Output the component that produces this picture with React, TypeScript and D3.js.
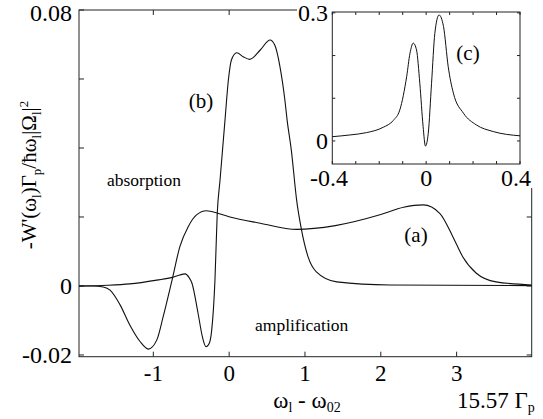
import * as d3 from 'd3';
import React from 'react';

// curve (a): broad band
const aX = [-1.98, -1.8, -1.66, -1.57, -1.44, -1.31, -1.175, -1.066, -0.955, -0.87, -0.75, -0.65, -0.54, -0.43, -0.3, -0.14, 0.01, 0.41, 0.89, 1.4, 2.0, 2.3, 2.56, 2.78, 2.95, 3.08, 3.26, 3.52, 3.99];
const aY = [0, 0, -0.0003, -0.0012, -0.0054, -0.0113, -0.0161, -0.0183, -0.0157, -0.0089, 0.002, 0.0114, 0.0172, 0.0206, 0.0218, 0.021, 0.02, 0.0182, 0.0164, 0.0175, 0.0207, 0.0228, 0.0235, 0.021, 0.0143, 0.0085, 0.0037, 0.0012, 0.0003];

// curve (b): narrow double peak
const bX = [-1.98, -1.6, -1.31, -0.955, -0.75, -0.65, -0.58, -0.53, -0.49, -0.41, -0.35, -0.305, -0.26, -0.23, -0.187, -0.157, -0.12, -0.055, -0.01, 0.03, 0.1, 0.19, 0.27, 0.41, 0.54, 0.6, 0.67, 0.735, 0.765, 0.82, 0.89, 0.955, 1.04, 1.15, 1.42, 2.12, 3.99];
const bY = [0, 0.0002, 0.0006, 0.0017, 0.0025, 0.0032, 0.0035, 0.0025, 0.0008, -0.0079, -0.015, -0.0176, -0.0165, -0.0128, 0.0017, 0.021, 0.0307, 0.048, 0.0597, 0.0655, 0.0676, 0.0664, 0.0657, 0.0684, 0.0713, 0.0699, 0.0636, 0.0539, 0.048, 0.0394, 0.0249, 0.0162, 0.0085, 0.0041, 0.0012, 0.0003, 0.0001];

// inset (c)
const cX = [-0.4, -0.325, -0.254, -0.183, -0.14, -0.112, -0.083, -0.069, -0.055, -0.041, -0.027, -0.013, -0.003, 0.009, 0.023, 0.037, 0.055, 0.074, 0.094, 0.116, 0.159, 0.214, 0.286, 0.4];
const cY = [0.01, 0.014, 0.0195, 0.032, 0.048, 0.073, 0.151, 0.205, 0.229, 0.213, 0.135, 0.034, -0.012, 0.018, 0.135, 0.252, 0.295, 0.268, 0.174, 0.112, 0.065, 0.0375, 0.022, 0.012];

const mainXTicks = [-1, 0, 1, 2, 3];
const mainYTicks = [-0.02, 0, 0.02, 0.04, 0.06, 0.08];
const mainYLabels = ['-0.02', '0', '', '', '', '0.08'];
const insetXTicks = [-0.4, -0.3, -0.2, -0.1, 0, 0.1, 0.2, 0.3, 0.4];
const insetXLabels = ['-0.4', '', '', '', '0', '', '', '', '0.4'];
const insetYTicks = [0, 0.1, 0.2, 0.3];
const insetYLabels = ['0', '', '', '0.3'];

const FONT = 'Liberation Serif, DejaVu Serif, serif';

export default function App() {
  const x = d3.scaleLinear().domain([-1.98, 3.99]).range([79, 531.7]);
  const y = d3.scaleLinear().domain([-0.0205, 0.08]).range([356.7, 10]);
  const ix = d3.scaleLinear().domain([-0.4, 0.4]).range([332.3, 520]);
  const iy = d3.scaleLinear().domain([-0.054, 0.302]).range([164, 12]);

  const line = d3.line<[number, number]>()
    .x(d => x(d[0]))
    .y(d => y(d[1]))
    .curve(d3.curveMonotoneX);
  const iline = d3.line<[number, number]>()
    .x(d => ix(d[0]))
    .y(d => iy(d[1]))
    .curve(d3.curveMonotoneX);

  const aPts = aX.map((v, i) => [v, aY[i]] as [number, number]);
  const bPts = bX.map((v, i) => [v, bY[i]] as [number, number]);
  const cPts = cX.map((v, i) => [v, cY[i]] as [number, number]);

  const [x0, x1] = x.range();
  const [y0, y1] = y.range();
  const [ix0, ix1] = ix.range();
  const [iy0, iy1] = iy.range();
  const tk = 5;

  return (
    <svg width={543} height={419} style={{ position: 'absolute', left: 0, top: 0, background: '#fff', fontFamily: FONT }}>
      {/* main frame */}
      <rect x={x0} y={y1} width={x1 - x0} height={y0 - y1} fill="none" stroke="#222" strokeWidth={1} />
      {mainXTicks.map(t => (
        <g key={'mx' + t}>
          <line x1={x(t)} x2={x(t)} y1={y0} y2={y0 - tk} stroke="#222" />
          <line x1={x(t)} x2={x(t)} y1={y1} y2={y1 + tk} stroke="#222" />
          <text x={x(t)} y={381} fontSize={23} textAnchor="middle">{t}</text>
        </g>
      ))}
      {mainYTicks.map((t, i) => (
        <g key={'my' + t}>
          <line x1={x0} x2={x0 + tk} y1={y(t)} y2={y(t)} stroke="#222" />
          <line x1={x1} x2={x1 - tk} y1={y(t)} y2={y(t)} stroke="#222" />
          {mainYLabels[i] && (
            <text x={72} y={Math.max(y(t) + 8, 21)} fontSize={24} textAnchor="end">{mainYLabels[i]}</text>
          )}
        </g>
      ))}

      <path d={line(aPts) || ''} fill="none" stroke="#111" strokeWidth={1.1} />
      <path d={line(bPts) || ''} fill="none" stroke="#111" strokeWidth={1.1} />

      {/* annotations */}
      <text x={201} y={108} fontSize={21} textAnchor="middle">(b)</text>
      <text x={416} y={242} fontSize={21} textAnchor="middle">(a)</text>
      <text x={107} y={186} fontSize={17.5}>absorption</text>
      <text x={255} y={331} fontSize={17.5}>amplification</text>

      {/* axis titles */}
      <text transform="translate(36,175) rotate(-90)" fontSize={21} textAnchor="middle">
        -W'(ω<tspan fontSize={13} dy={5}>l</tspan>
        <tspan dy={-5}>)Γ</tspan><tspan fontSize={13} dy={5}>p</tspan>
        <tspan dy={-5}>/ħω</tspan><tspan fontSize={13} dy={5}>l</tspan>
        <tspan dy={-5}>|Ω</tspan><tspan fontSize={13} dy={5}>l</tspan>
        <tspan dy={-5}>|</tspan><tspan fontSize={13} dy={-8}>2</tspan>
      </text>
      <text x={307} y={408} fontSize={23} textAnchor="middle">
        ω<tspan fontSize={14} dy={4}>l</tspan><tspan dy={-4}> - ω</tspan><tspan fontSize={14} dy={4}>02</tspan>
      </text>
      <text x={457} y={408} fontSize={23}>
        15.57 Γ<tspan fontSize={14} dy={4}>p</tspan>
      </text>

      {/* inset (c) */}
      <rect x={297} y={0} width={246} height={188} fill="#fff" />
      <rect x={ix0} y={iy1} width={ix1 - ix0} height={iy0 - iy1} fill="none" stroke="#222" strokeWidth={1} />
      {insetXTicks.map((t, i) => (
        <g key={'ix' + t}>
          <line x1={ix(t)} x2={ix(t)} y1={iy0} y2={iy0 - 3} stroke="#222" />
          <line x1={ix(t)} x2={ix(t)} y1={iy1} y2={iy1 + 3} stroke="#222" />
          {insetXLabels[i] && (
            <text x={i === 8 ? 516 : i === 0 ? 329 : ix(t)} y={186} fontSize={24} textAnchor="middle">{insetXLabels[i]}</text>
          )}
        </g>
      ))}
      {insetYTicks.map((t, i) => (
        <g key={'iy' + t}>
          <line x1={ix0} x2={ix0 + 3} y1={iy(t)} y2={iy(t)} stroke="#222" />
          <line x1={ix1} x2={ix1 - 3} y1={iy(t)} y2={iy(t)} stroke="#222" />
          {insetYLabels[i] && (
            <text x={328} y={iy(t) + 8} fontSize={24} textAnchor="end">{insetYLabels[i]}</text>
          )}
        </g>
      ))}
      <path d={iline(cPts) || ''} fill="none" stroke="#111" strokeWidth={1} />
      <text x={468} y={60} fontSize={21} textAnchor="middle">(c)</text>
    </svg>
  );
}
